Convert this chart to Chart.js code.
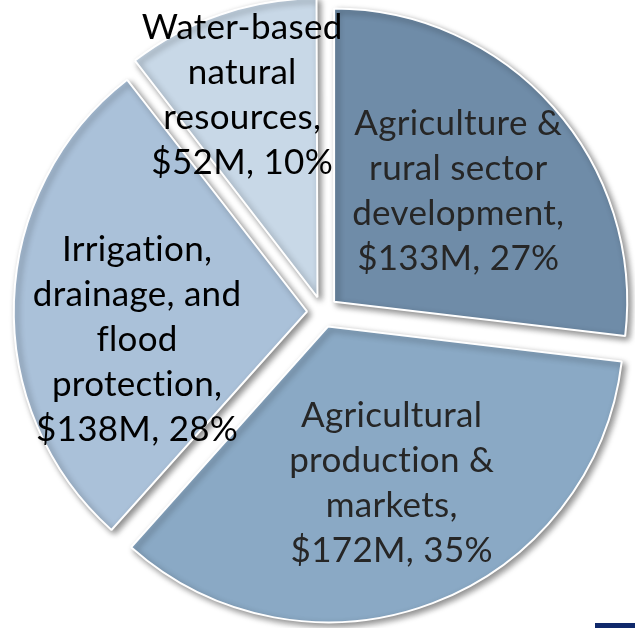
<!DOCTYPE html>
<html lang="en">
  <head>
    <meta charset="UTF-8" />
    <title>Water and agriculture portfolio</title>
    <script src="https://cdn.jsdelivr.net/npm/chart.js"></script>
    <style>
      body { margin: 0; background: #fff; }
      #wrap { position: relative; width: 635px; height: 628px; }
      #cornerBar { position: absolute; left: 595px; top: 623px; width: 40px; height: 5px; background: #10296b; }
    </style>
  </head>
  <body>
    <div id="wrap">
      <canvas id="portfolioChart" width="635" height="628"></canvas>
      <div id="cornerBar"></div>
    </div>
    <script>
      // values
      const categories = [
        "Agriculture & rural sector development",
        "Agricultural production & markets",
        "Irrigation, drainage, and flood protection",
        "Water-based natural resources",
      ];
      const labelLines = [
        ["Agriculture &", "rural sector", "development,"],
        ["Agricultural", "production &", "markets,"],
        ["Irrigation,", "drainage, and", "flood", "protection,"],
        ["Water-based", "natural", "resources,"],
      ];
      const amounts = [133, 172, 138, 52]; // $M
      const shares = [27, 35, 28, 10]; // % as printed
      const sliceColors = ["#6f8ca8", "#8aa9c5", "#aac1d9", "#c8d8e7"];

      const sliceShadow = {
        id: "sliceShadow",
        beforeDatasetsDraw(chart) {
          const c = chart.ctx;
          c.save();
          c.shadowColor = "rgba(0,0,0,0.45)";
          c.shadowBlur = 6;
          c.shadowOffsetX = 3;
          c.shadowOffsetY = 3;
        },
        afterDatasetsDraw(chart) {
          chart.ctx.restore();
        },
      };

      const sliceLabels = {
        id: "sliceLabels",
        afterDatasetsDraw(chart, args, opts) {
          const ctx = chart.ctx;
          const meta = chart.getDatasetMeta(0);
          meta.data.forEach((arc, i) => {
            const mid = (arc.startAngle + arc.endAngle) / 2 + (opts.turn[i] * Math.PI) / 180;
            const r = arc.outerRadius * opts.reach[i];
            const x = arc.x + Math.cos(mid) * r;
            const y = arc.y + Math.sin(mid) * r;
            const lines = [...labelLines[i], "$" + amounts[i] + "M, " + shares[i] + "%"];
            ctx.save();
            ctx.font = opts.font;
            ctx.letterSpacing = "0.3px"; // also stops Lato's "ti" ligature
            ctx.fillStyle = opts.colors[i];
            ctx.textAlign = "center";
            ctx.textBaseline = "middle";
            const top = y - ((lines.length - 1) * opts.lineHeight) / 2;
            lines.forEach((t, k) => ctx.fillText(t, x, top + k * opts.lineHeight));
            ctx.restore();
          });
        },
      };

      new Chart(document.getElementById("portfolioChart").getContext("2d"), {
        type: "pie",
        data: {
          labels: categories,
          datasets: [
            {
              data: amounts,
              backgroundColor: sliceColors,
              borderColor: "#ffffff",
              borderWidth: 2,
              offset: 62,
              hoverOffset: 0,
            },
          ],
        },
        options: {
          responsive: false,
          animation: false,
          radius: 293,
          layout: { padding: { left: 10, right: 0, top: 0, bottom: 4 } },
          events: [],
          plugins: {
            legend: { display: false },
            tooltip: { enabled: false },
            sliceLabels: {
              font: "35px Lato",
              lineHeight: 45,
              colors: ["#262626", "#262626", "#000000", "#000000"],
              reach: [0.62, 0.63, 0.64, 0.79],
              turn: [0, -1.3, -10.6, -1.4],
            },
          },
        },
        plugins: [sliceShadow, sliceLabels],
      });
    </script>
  </body>
</html>
